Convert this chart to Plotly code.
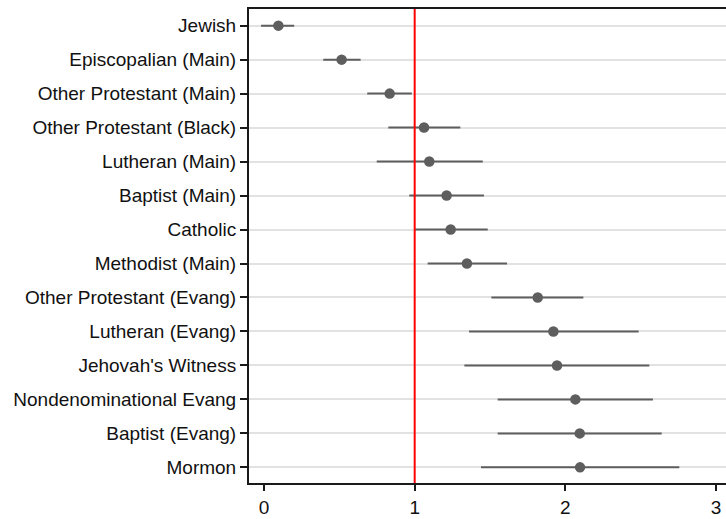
import plotly.graph_objects as go

categories = [
    "Jewish", "Episcopalian (Main)", "Other Protestant (Main)", "Other Protestant (Black)",
    "Lutheran (Main)", "Baptist (Main)", "Catholic", "Methodist (Main)",
    "Other Protestant (Evang)", "Lutheran (Evang)", "Jehovah's Witness",
    "Nondenominational Evang", "Baptist (Evang)", "Mormon",
]
estimates = [0.095, 0.515, 0.834, 1.062, 1.097, 1.212, 1.239, 1.347,
             1.817, 1.921, 1.945, 2.067, 2.096, 2.098]
ci_low = [-0.02, 0.393, 0.685, 0.825, 0.748, 0.964, 1.000, 1.086,
          1.509, 1.361, 1.330, 1.551, 1.551, 1.440]
ci_high = [0.20, 0.641, 0.981, 1.303, 1.452, 1.460, 1.485, 1.613,
           2.120, 2.487, 2.558, 2.582, 2.640, 2.757]
x_ticks = [0, 1, 2, 3]
reference_value = 1

err_plus = [h - e for h, e in zip(ci_high, estimates)]
err_minus = [e - l for e, l in zip(estimates, ci_low)]
ypos = list(range(len(categories)))

fig = go.Figure()
fig.add_trace(go.Scatter(
    x=estimates, y=ypos, mode="markers",
    marker=dict(size=10.5, color="#5e5e5e"),
    error_x=dict(type="data", symmetric=False, array=err_plus, arrayminus=err_minus,
                 color="#5e5e5e", thickness=2, width=0),
    showlegend=False, hoverinfo="skip",
))

fig.add_shape(type="line", xref="x", yref="paper", x0=reference_value, x1=reference_value,
              y0=0, y1=1, line=dict(color="#ff0000", width=2), layer="above")

font = dict(family="Liberation Sans, Arial, Helvetica, sans-serif", size=19, color="#111111")

fig.update_layout(
    width=726, height=519,
    margin=dict(l=249, r=0, t=9, b=36),
    paper_bgcolor="white", plot_bgcolor="white",
    font=font,
    xaxis=dict(
        range=[-0.1, 3.067], tickvals=x_ticks, ticktext=[str(v) for v in x_ticks],
        showgrid=False, zeroline=False,
        showline=True, linecolor="#1a1a1a", linewidth=2, mirror=True,
        ticks="outside", ticklen=6, tickwidth=1.5, tickcolor="#1a1a1a",
        tickfont=font,
    ),
    yaxis=dict(
        range=[13.46, -0.49], tickvals=ypos, ticktext=categories,
        showgrid=True, gridcolor="#e2e2e2", gridwidth=1.8, zeroline=False,
        showline=True, linecolor="#1a1a1a", linewidth=2,
        ticks="outside", ticklen=7, tickwidth=1.5, tickcolor="#1a1a1a",
        tickfont=font,
    ),
)

fig.write_html("out.html")
